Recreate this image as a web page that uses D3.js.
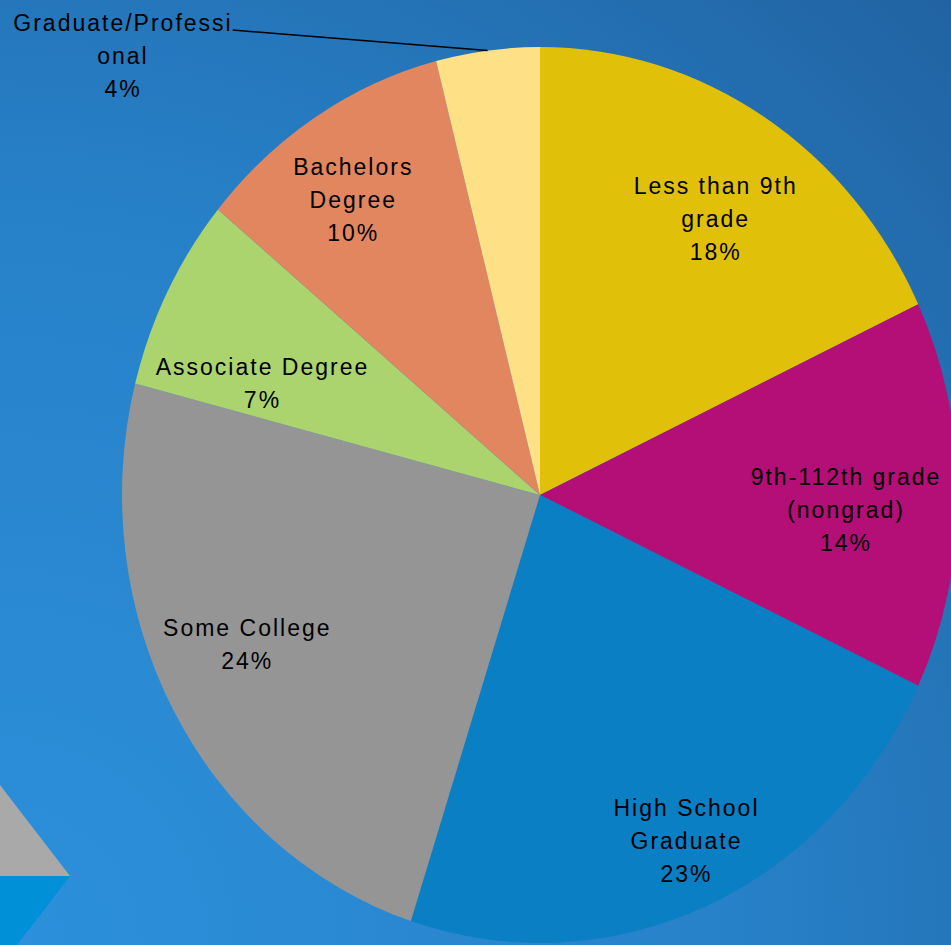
<!DOCTYPE html>
<head>
  <meta charset="utf-8">
  <script src="https://cdnjs.cloudflare.com/ajax/libs/d3/7.8.5/d3.min.js"></script>
</head>

<style>
  body { margin: 0; overflow: hidden; }
  .lbl {
    font-family: "Liberation Sans", Arial, sans-serif;
    font-size: 23px;
    letter-spacing: 2px;
    fill: #000;
    text-anchor: middle;
  }
</style>

<body>
  <svg width="951" height="945" viewBox="0 0 951 945" class="my_pie"></svg>

  <script>

  // education levels, clockwise from 12 o'clock
  let categories = ["Less than 9th grade", "9th-112th grade (nongrad)", "High School Graduate",
                    "Some College", "Associate Degree", "Bachelors Degree", "Graduate/Professional"];
  let labelLines = [["Less than 9th", "grade"], ["9th-112th grade", "(nongrad)"], ["High School", "Graduate"],
                    ["Some College"], ["Associate Degree"], ["Bachelors", "Degree"], ["Graduate/Professi", "onal"]];
  let shares = [18, 14, 23, 24, 7, 10, 4];
  let colors = ["#e1c00a", "#b30f77", "#0a7fc4", "#959595", "#acd46e", "#e28660", "#fee186"];

  let svg = d3.select(".my_pie");
  let W = +svg.attr("width"), H = +svg.attr("height");

  // background
  let defs = svg.append("defs");
  let grad = defs.append("radialGradient")
      .attr("id", "bg").attr("gradientUnits", "userSpaceOnUse")
      .attr("cx", 0).attr("cy", H).attr("r", 1340);
  grad.append("stop").attr("offset", "0").attr("stop-color", "#2c90dc");
  grad.append("stop").attr("offset", "0.55").attr("stop-color", "#2781c8");
  grad.append("stop").attr("offset", "1").attr("stop-color", "#2163a2");
  svg.append("rect").attr("width", W).attr("height", H).attr("fill", "url(#bg)");

  // corner decoration
  svg.append("path").attr("d", "M0,785L70,876L0,876Z").attr("fill", "#a9a9a9");
  svg.append("path").attr("d", "M0,876L70,876L17,945L0,945Z").attr("fill", "#0090d8");

  let cx = 540, cy = 495, rx = 418, ry = 448, sy = ry / rx;

  let pie = d3.pie().sort(null).value(function(d) { return d; });
  let arcs = pie(shares);
  let arc = d3.arc().innerRadius(0).outerRadius(rx);

  let g = svg.append("g")
      .attr("transform", "translate(" + cx + "," + cy + ") scale(1," + sy + ")");

  g.selectAll(".slice")
    .data(arcs)
    .enter().append("path")
      .attr("class", "slice")
      .attr("d", arc)
      .attr("fill", function(d, i) { return colors[i]; });

  // labels inside slices
  let labelArc = d3.arc().innerRadius(rx * 0.78).outerRadius(rx * 0.78);
  let nudge = [[1, 19], [-20, 15], [17, 25], [-7, -19], [13, 47], [-12, 0]];
  let lineH = 33;

  function drawLabel(x, y, lines) {
    let t = svg.append("text").attr("class", "lbl");
    lines.forEach(function(s, k) {
      t.append("tspan")
        .attr("x", x)
        .attr("y", y + (k - (lines.length - 1) / 2) * lineH + 8)
        .text(s);
    });
    return t;
  }

  arcs.forEach(function(d, i) {
    if (i >= nudge.length) return;
    let c = labelArc.centroid(d);
    drawLabel(cx + c[0] + nudge[i][0], cy + c[1] * sy + nudge[i][1],
              labelLines[i].concat([shares[i] + "%"]));
  });

  // outside label for the last small slice, with leader line
  let last = arcs.length - 1;
  let lx = cx - 417, ly = cy - 439;
  let t = drawLabel(lx, ly, labelLines[last].concat([shares[last] + "%"]));
  let firstLen = t.select("tspan").node().getComputedTextLength();
  let outer = d3.arc().innerRadius(rx).outerRadius(rx).centroid(arcs[last]);
  svg.append("line")
      .attr("x1", lx + firstLen / 2)
      .attr("y1", ly - lineH + 7)
      .attr("x2", cx + outer[0])
      .attr("y2", cy + outer[1] * sy)
      .attr("stroke", "#000")
      .attr("stroke-width", 1.5);

  </script>
</body>
</html>
